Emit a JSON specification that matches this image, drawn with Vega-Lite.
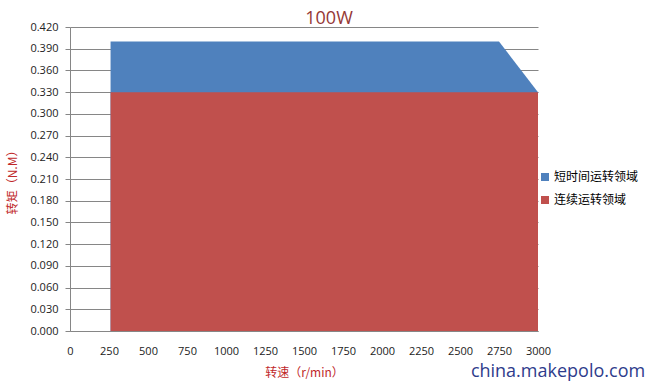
{
  "$schema": "https://vega.github.io/schema/vega-lite/v6.json",
  "width": 468,
  "height": 304,
  "autosize": {"type": "none"},
  "padding": {"left": 70, "top": 27, "right": 108, "bottom": 52},
  "background": "white",
  "config": {"view": {"stroke": null}},
  "title": {
    "text": "100W",
    "font": "Open Sans",
    "fontSize": 18,
    "fontWeight": "normal",
    "color": "#953735",
    "anchor": "middle",
    "dx": 25,
    "offset": -7
  },
  "datasets": {
    "areas": [
      {"rpm": 260, "torque": 0.4, "series": "短时间运转领域"},
      {"rpm": 2750, "torque": 0.4, "series": "短时间运转领域"},
      {"rpm": 3000, "torque": 0.33, "series": "短时间运转领域"},
      {"rpm": 260, "torque": 0.33, "series": "连续运转领域"},
      {"rpm": 3000, "torque": 0.33, "series": "连续运转领域"}
    ],
    "mark": [{"label": "china.makepolo.com"}]
  },
  "resolve": {"scale": {"x": "independent", "y": "independent"}, "axis": {"x": "independent", "y": "independent"}},
  "layer": [
    {
      "data": {"name": "areas"},
      "encoding": {
        "x": {
          "field": "rpm", "type": "quantitative",
          "scale": {"domain": [0, 3000], "nice": false, "zero": false},
          "axis": {
            "values": [0, 250, 500, 750, 1000, 1250, 1500, 1750, 2000, 2250, 2500, 2750, 3000],
            "format": "d", "labelOverlap": false,
            "grid": false, "ticks": false, "domainColor": "#868686",
            "labelFont": "Open Sans", "labelFontSize": 11, "labelColor": "#222222",
            "labelPadding": 14, "labelFlush": false,
            "title": "转速（r/min）", "titleFont": "Noto Sans CJK SC", "titleFontSize": 12,
            "titleFontWeight": "normal", "titleColor": "#C0282A", "titlePadding": 11
          }
        },
        "y": {
          "field": "torque", "type": "quantitative",
          "scale": {"domain": [0, 0.42], "nice": false},
          "axis": {
            "values": [0, 0.03, 0.06, 0.09, 0.12, 0.15, 0.18, 0.21, 0.24, 0.27, 0.3, 0.33, 0.36, 0.39, 0.42],
            "format": ".3f", "labelOverlap": false, "grid": true, "gridColor": "#868686", "gridWidth": 1,
            "domainColor": "#868686", "tickColor": "#868686", "tickSize": 5,
            "labelFont": "Open Sans", "labelFontSize": 11, "labelColor": "#222222",
            "labelPadding": 7, "labelFlush": false,
            "title": "转矩（N.M）", "titleFont": "Noto Sans CJK SC", "titleFontSize": 12,
            "titleFontWeight": "normal", "titleColor": "#C0282A", "titlePadding": 10
          }
        },
        "color": {
          "field": "series", "type": "nominal",
          "scale": {"domain": ["短时间运转领域", "连续运转领域"], "range": ["#4F81BD", "#C0504D"]},
          "legend": {
            "title": null, "orient": "none", "legendX": 469, "legendY": 144,
            "symbolType": "square", "symbolSize": 64, "symbolStrokeWidth": 0,
            "labelFont": "Noto Sans CJK SC", "labelFontSize": 12, "labelColor": "#000000",
            "rowPadding": 11, "labelOffset": 3
          }
        }
      },
      "layer": [
        {
          "transform": [{"filter": "datum.series === '短时间运转领域'"}],
          "mark": {"type": "area", "opacity": 1, "line": false}
        },
        {
          "transform": [{"filter": "datum.series === '连续运转领域'"}],
          "mark": {"type": "area", "opacity": 1, "line": false}
        }
      ]
    },
    {
      "data": {"name": "mark"},
      "mark": {"type": "text", "font": "Open Sans", "fontSize": 18, "fill": "#2E3C8C", "align": "center", "baseline": "middle", "dx": 20, "dy": 41},
      "encoding": {
        "x": {"datum": 3000, "type": "quantitative", "scale": {"domain": [0, 3000], "nice": false, "zero": false}, "axis": null},
        "y": {"datum": 0, "type": "quantitative", "scale": {"domain": [0, 0.42], "nice": false}, "axis": null},
        "text": {"field": "label", "type": "nominal"}
      }
    }
  ]
}
